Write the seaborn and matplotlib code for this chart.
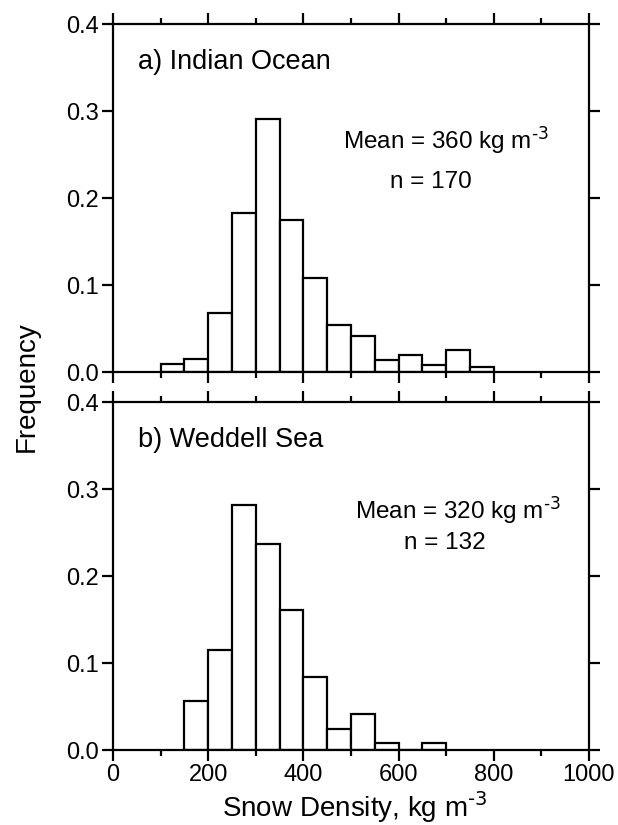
import numpy as np
import seaborn as sns
import matplotlib.pyplot as plt
from matplotlib.ticker import MultipleLocator, FormatStrFormatter

# bin edges (kg m-3) and frequencies
indian_edges = [100, 150, 200, 250, 300, 350, 400, 450, 500, 550, 600, 650, 700, 750, 800]
indian_freq = [0.009, 0.015, 0.068, 0.183, 0.291, 0.175, 0.108, 0.054,
               0.042, 0.014, 0.020, 0.008, 0.025, 0.006]

weddell_edges = [150, 200, 250, 300, 350, 400, 450, 500, 550, 600, 650, 700]
weddell_freq = [0.056, 0.115, 0.282, 0.237, 0.161, 0.084, 0.024, 0.041,
                0.008, 0.0, 0.008]

panel_labels = ["a) Indian Ocean", "b) Weddell Sea"]
mean_labels = [r"Mean = 360 kg m$^{\text{-3}}$", r"Mean = 320 kg m$^{\text{-3}}$"]
n_labels = ["n = 170", "n = 132"]

sns.set_theme(style="ticks")
plt.rcParams['font.family'] = ['Liberation Sans', 'DejaVu Sans']
plt.rcParams['mathtext.default'] = 'regular'
plt.rcParams['axes.linewidth'] = 1.6
plt.rcParams['text.color'] = 'black'

fig = plt.figure(figsize=(6.18, 8.25), dpi=100)
ax1 = fig.add_axes([0.1828, 0.549, 0.7702, 0.4218])
ax2 = fig.add_axes([0.1828, 0.0909, 0.7702, 0.4218])

panels = [(ax1, indian_edges, indian_freq), (ax2, weddell_edges, weddell_freq)]
text_pos = [((0.70, 0.667), (0.668, 0.546)), ((0.725, 0.69), (0.697, 0.595))]

for i, (ax, edges, freq) in enumerate(panels):
    centers = [(a + b) / 2 for a, b in zip(edges[:-1], edges[1:])]
    sns.histplot(x=centers, weights=freq, bins=edges, ax=ax,
                 color='white', edgecolor='black', linewidth=1.6, alpha=1)
    ax.set_xlim(0, 1000)
    ax.set_ylim(0, 0.4)
    ax.xaxis.set_major_locator(MultipleLocator(200))
    ax.xaxis.set_minor_locator(MultipleLocator(100))
    ax.yaxis.set_major_locator(MultipleLocator(0.1))
    ax.yaxis.set_major_formatter(FormatStrFormatter('%.1f'))
    ax.tick_params(which='both', direction='out', top=True, right=True,
                   width=1.6, labelsize=17, pad=2, colors='black')
    ax.tick_params(which='major', length=8)
    ax.tick_params(which='minor', length=4)
    ax.set_xlabel('')
    ax.set_ylabel('')
    for s in ax.spines.values():
        s.set_color('black')
    ax.text(0.0525, 0.891, panel_labels[i], transform=ax.transAxes,
            fontsize=19.5, ha='left', va='center', color='black')
    (mx, my), (nx, ny) = text_pos[i]
    ax.text(mx, my, mean_labels[i], transform=ax.transAxes,
            fontsize=17.5, ha='center', va='center', color='black')
    ax.text(nx, ny, n_labels[i], transform=ax.transAxes,
            fontsize=17.5, ha='center', va='center', color='black')

ax1.tick_params(labelbottom=False)

fig.text(0.044, 0.531, 'Frequency', rotation=90, fontsize=20,
         ha='center', va='center', color='black')
fig.text(0.574, 0.010, r"Snow Density, kg m$^{\text{-3}}$", fontsize=20,
         ha='center', va='baseline', color='black')

fig.savefig('out.png', dpi=100)
